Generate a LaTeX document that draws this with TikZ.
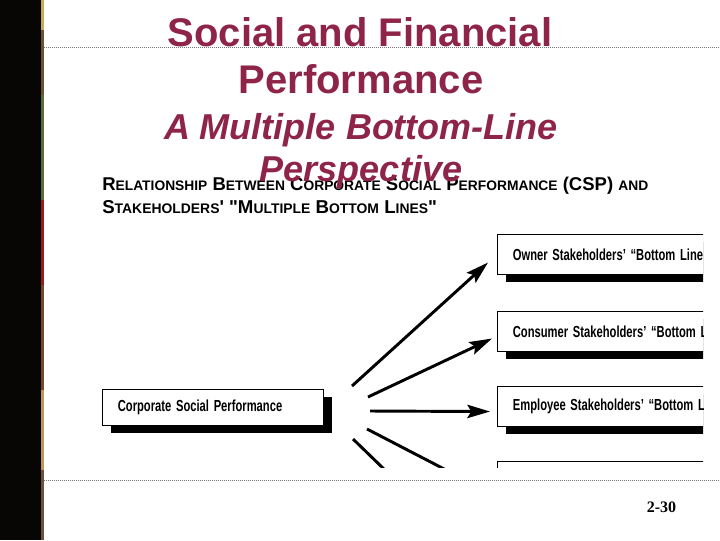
\documentclass[tikz,border=0pt]{standalone}
\usepackage{fontspec}
\setmainfont{Liberation Sans}
\newfontfamily\serifnum{Liberation Serif}
\usetikzlibrary{shadows,arrows.meta,calc}
\definecolor{maroon}{RGB}{142,36,72}
\definecolor{barblack}{RGB}{8,5,5}
\newcommand\hsc[1]{{\fontsize{9.4}{11}\selectfont #1}}
\newcommand\bt[1]{\scalebox{0.7}[1]{\spaceskip=0.42em\relax #1}}
\newcommand\dq{\XeTeXglyph\XeTeXcharglyph"22\relax}
\newcommand\sq{\XeTeXglyph\XeTeXcharglyph"27\relax}
\tikzset{
  titletext/.style={font=\fontsize{30}{36}\selectfont\bfseries, text=maroon, anchor=base, inner sep=0pt},
  subtext/.style={font=\fontsize{27}{32}\selectfont\bfseries\itshape, text=maroon, anchor=base, inner sep=0pt},
  headtext/.style={font=\fontsize{12.6}{15}\selectfont\bfseries, anchor=base west, inner sep=0pt},
  dotline/.style={draw=black!55, line width=0.75pt, dash pattern=on 0.75pt off 0.75pt},
  sbox/.style={draw=black, line width=0.8pt, fill=white, rectangle, anchor=north west,
    minimum height=30pt, inner xsep=11.5pt, inner ysep=0pt, align=left,
    font=\fontsize{12}{14}\selectfont\bfseries,
    drop shadow={shadow xshift=6.5pt, shadow yshift=-5.5pt, opacity=1, fill=black}},
  arr/.style={line width=2.2pt, -{Stealth[length=17pt,width=10pt,inset=3pt]}},
  plainline/.style={line width=2.2pt},
  stripe/.style={draw=none}
}
\begin{document}
\begin{tikzpicture}[x=0.75pt,y=-0.75pt]
\useasboundingbox (0,0) rectangle (720,540);
% left bar
\fill[barblack] (0,0) rectangle (40.5,540);
\fill[stripe, fill={rgb,255:red,200;green,170;blue,80}] (40.5,0) rectangle (43.5,30);
\fill[stripe, fill={rgb,255:red,110;green,80;blue,50}] (40.5,30) rectangle (43.5,95);
\fill[stripe, fill={rgb,255:red,90;green,110;blue,50}] (40.5,95) rectangle (43.5,200);
\fill[stripe, fill={rgb,255:red,150;green,30;blue,20}] (40.5,200) rectangle (43.5,285);
\fill[stripe, fill={rgb,255:red,120;green,70;blue,40}] (40.5,285) rectangle (43.5,390);
\fill[stripe, fill={rgb,255:red,190;green,150;blue,80}] (40.5,390) rectangle (43.5,470);
\fill[stripe, fill={rgb,255:red,110;green,80;blue,60}] (40.5,470) rectangle (43.5,540);
% dotted rules
\draw[dotline] (44,47) -- (720,47);
\draw[dotline] (44,480) -- (720,480);
% heading of scanned figure
\node[headtext] (h1) at (102,190) {\resizebox{409.5pt}{!}{R\hsc{ELATIONSHIP} B\hsc{ETWEEN} C\hsc{ORPORATE} S\hsc{OCIAL} P\hsc{ERFORMANCE} (CSP) \hsc{AND}}};
\node[headtext] (h2) at (102,213) {\resizebox{251pt}{!}{S\hsc{TAKEHOLDERS}\sq{} \dq{}M\hsc{ULTIPLE} B\hsc{OTTOM} L\hsc{INES}\dq}};
% scanned diagram
\begin{scope}
\clip (44,0) rectangle (703,467);
\node[sbox, minimum width=165.75pt, text width=142.75pt, minimum height=27pt] (csp) at (102,389) {\bt{Corporate Social Performance}};
\node[sbox, text width=200pt] (b1) at (497,234) {\bt{Owner Stakeholders’ “Bottom Line}};
\node[sbox, text width=200pt] (b2) at (497,311) {\bt{Consumer Stakeholders’ “Bottom L}};
\node[sbox, text width=200pt] (b3) at (497,386) {\bt{Employee Stakeholders’ “Bottom L}};
\node[sbox, text width=200pt] (b4) at (497,461) {};
\coordinate (s1) at (352,386);
\coordinate (s2) at (368,397);
\coordinate (s3) at (370,411);
\coordinate (s4) at (367,429);
\coordinate (s5) at (353,439);
\coordinate (e4) at (448,471);
\coordinate (e5) at (387,472);
\draw[arr] (s1) -- ($(b1.west)+(-9,8)$);
\draw[arr] (s2) -- ($(b2.west)+(-5,7)$);
\draw[arr] (s3) -- ($(b3.west)+(-7,5)$);
\draw[plainline] (s4) -- (e4);
\draw[plainline] (s5) -- (e5);
\end{scope}
% slide titles
\node[titletext] (t1) at (360,46) {Social and Financial};
\node[titletext] (t2) at (361,93) {Performance};
\node[subtext] (t3) at (361,139) {A Multiple Bottom-Line};
\node[subtext] (t4) at (361,181) {Perspective};
% page number
\node[font=\serifnum\fontsize{12}{14}\selectfont\bfseries, anchor=base, inner sep=0pt] (pg) at (661.5,512) {2-30};
\end{tikzpicture}
\end{document}
